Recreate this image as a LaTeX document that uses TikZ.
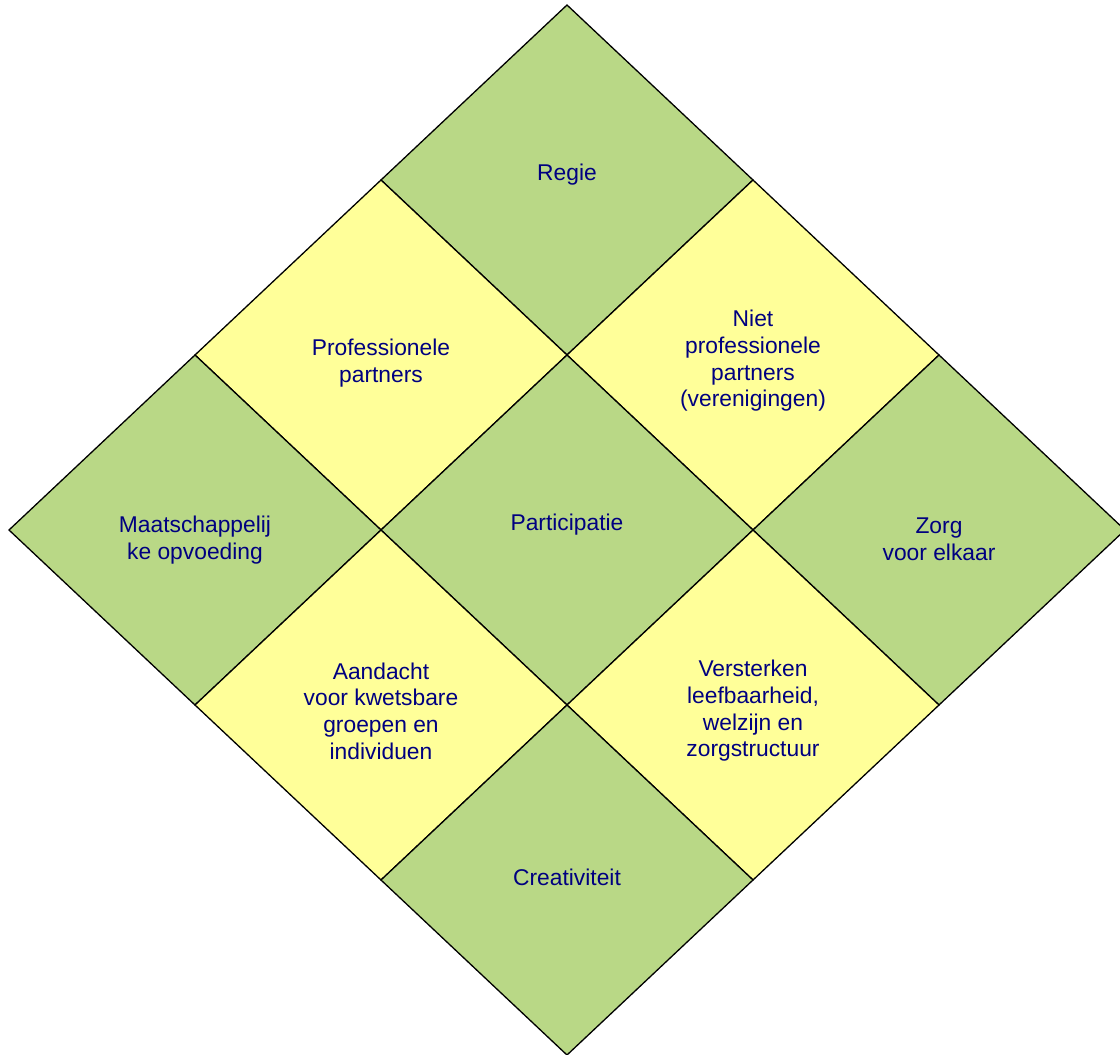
\documentclass[tikz,border=0pt]{standalone}
\usepackage{fontspec}
\setmainfont{Liberation Sans}
\definecolor{cellgreen}{RGB}{185,216,134}
\definecolor{cellyellow}{RGB}{255,255,153}
\definecolor{txtblue}{RGB}{0,0,128}
\begin{document}
\begin{tikzpicture}[x=1pt,y=-1pt,
  cellbox/.style={draw=black,line width=1.3pt,line join=miter},
  label/.style={align=center,text=txtblue,inner sep=0pt,font=\fontsize{22.8}{26.7}\selectfont}]
\useasboundingbox (0,0) rectangle (1120,1055);
\foreach \i in {0,...,3}{
  \foreach \j in {0,...,3}{
    \coordinate (p-\i-\j) at ({567+186*(\i-\j)},{5+175*(\i+\j)});
  }
}
\foreach \i/\ii in {0/1,1/2,2/3}{
  \foreach \j/\jj in {0/1,1/2,2/3}{
    \pgfmathparse{int(mod(\i+\j,2))}
    \ifnum\pgfmathresult=0
      \filldraw[cellbox,fill=cellgreen] (p-\i-\j) -- (p-\ii-\j) -- (p-\ii-\jj) -- (p-\i-\jj) -- cycle;
    \else
      \filldraw[cellbox,fill=cellyellow] (p-\i-\j) -- (p-\ii-\j) -- (p-\ii-\jj) -- (p-\i-\jj) -- cycle;
    \fi
  }
}
\node[label] (regie) at (567,175) {Regie};
\node[label] (niet) at (753,361) {Niet\\professionele\\partners\\(verenigingen)};
\node[label] (zorg) at (939,539) {Zorg\\voor elkaar};
\node[label] (prof) at (381,363) {Professionele\\partners};
\node[label] (part) at (567,525) {Participatie};
\node[label] (verst) at (753,711) {Versterken\\leefbaarheid,\\welzijn en\\zorgstructuur};
\node[label] (maat) at (195,540) {Maatschappelij\\ke opvoeding};
\node[label] (aand) at (381,711) {Aandacht\\voor kwetsbare\\groepen en\\individuen};
\node[label] (crea) at (567,877) {Creativiteit};
\end{tikzpicture}
\end{document}
